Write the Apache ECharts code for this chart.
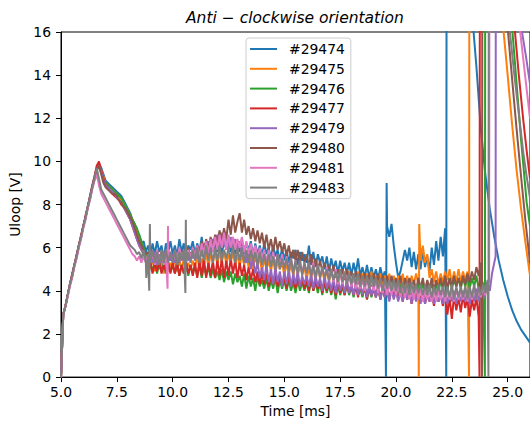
<!DOCTYPE html>
<html><head><meta charset="utf-8">
<script src="https://cdn.jsdelivr.net/npm/echarts@6/dist/echarts.min.js"></script>
<style>html,body{margin:0;padding:0;background:#fff}#chart{width:530px;height:423px}</style>
</head><body><div id="chart"></div>
<script>
// Sample times [ms]
const time = [
5.0,5.1,5.2,5.3,5.4,5.5,5.6,5.7,5.8,5.9,
6.0,6.1,6.2,6.3,6.4,6.5,6.6,6.7,6.8,6.9,
7.0,7.1,7.2,7.3,7.4,7.5,7.6,7.7,7.8,7.9,
8.0,8.1,8.2,8.3,8.4,8.5,8.6,8.7,8.8,8.9,
9.0,9.1,9.2,9.3,9.4,9.5,9.6,9.7,9.8,9.9,
10.0,10.1,10.2,10.3,10.4,10.5,10.6,10.7,10.8,10.9,
11.0,11.1,11.2,11.3,11.4,11.5,11.6,11.7,11.8,11.9,
12.0,12.1,12.2,12.3,12.4,12.5,12.6,12.7,12.8,12.9,
13.0,13.1,13.2,13.3,13.4,13.5,13.6,13.7,13.8,13.9,
14.0,14.1,14.2,14.3,14.4,14.5,14.6,14.7,14.8,14.9,
15.0,15.1,15.2,15.3,15.4,15.5,15.6,15.7,15.8,15.9,
16.0,16.1,16.2,16.3,16.4,16.5,16.6,16.7,16.8,16.9,
17.0,17.1,17.2,17.3,17.4,17.5,17.6,17.7,17.8,17.9,
18.0,18.1,18.2,18.3,18.4,18.5,18.6,18.7,18.8,18.9,
19.0,19.1,19.2,19.3,19.4,19.5,19.6,19.7,19.8,19.9,
20.0,20.1,20.2,20.3,20.4,20.5,20.6,20.7,20.8,20.9,
21.0,21.1,21.2,21.3,21.4,21.5,21.6,21.7,21.8,21.9,
22.0,22.1,22.2,22.3,22.4,22.5,22.6,22.7,22.8,22.9,
23.0,23.1,23.2,23.3,23.4,23.5,23.6,23.7,23.8,23.9,
24.0,24.1,24.2,24.3,24.4
];

const shotNames = ['#29474','#29475','#29476','#29477','#29479','#29480','#29481','#29483'];

// Uloop [V] on the sample grid
const u29474 = [
0,2.9,3.3,3.8,4.3,4.7,5.2,5.6,6.1,6.5,
7.0,7.4,7.9,8.4,8.8,9.3,9.7,9.9,9.7,9.4,
9.1,9.0,8.9,8.8,8.7,8.6,8.5,8.4,8.2,8.0,
7.8,7.6,7.3,7.1,6.7,6.6,6.2,6.3,5.8,6.1,
5.6,6.2,5.7,6.3,5.8,6.1,5.5,6.2,5.8,6.3,
5.7,6.1,5.6,6.4,5.8,6.2,5.6,6.1,5.9,6.3,
5.7,6.2,5.8,6.5,5.7,6.3,5.9,6.4,5.8,6.2,
5.8,6.4,5.7,6.3,5.9,6.5,5.8,6.2,5.7,6.3,
5.8,6.4,5.7,6.2,5.9,6.3,5.6,6.2,5.7,6.1,
5.6,6.2,5.7,6.0,5.5,6.1,5.6,5.9,5.4,6.0,
5.4,5.9,5.3,5.8,5.5,5.9,5.2,5.8,5.4,5.7,
5.3,6.1,5.2,5.8,5.1,5.7,5.3,5.6,5.0,5.6,
4.9,5.5,5.0,5.4,4.8,5.4,4.9,5.3,4.8,5.3,
4.7,5.3,4.8,5.5,4.7,5.1,4.6,5.2,4.6,5.1,
4.6,5.0,4.5,5.1,4.6,4.9,7.0,6.5,7.1,6.1,
5.3,4.6,4.9,5.4,5.9,5.4,6.0,5.1,5.8,5.0,
5.7,5.0,5.9,5.1,5.6,4.9,6.0,5.2,6.3,5.4,
6.5,5.6,6.9
];
const e29474 = [[19.55,0],[19.58,9.0],[22.25,0],[22.28,40],[23.35,40],[23.45,16.3],[23.6,14.4],[23.8,11.5],[24.0,9.4],[24.2,7.8],[24.4,6.5],[24.6,5.4],[24.8,4.5],[25.0,3.75],[25.2,3.1],[25.4,2.6],[25.6,2.2],[25.8,1.9],[26.0,1.6]];

const u29475 = [
0,2.9,3.3,3.8,4.3,4.7,5.2,5.6,6.1,6.5,
7.0,7.4,7.9,8.3,8.8,9.2,9.6,9.9,9.6,9.3,
9.0,8.9,8.8,8.7,8.6,8.5,8.4,8.2,8.1,7.9,
7.7,7.5,7.3,7.0,6.7,6.4,6.1,5.9,5.6,5.4,
5.0,5.5,4.9,5.4,5.0,5.5,4.8,5.4,4.9,5.3,
5.0,5.5,4.9,5.4,5.0,5.5,4.9,5.3,5.0,5.4,
5.1,5.6,5.0,5.5,5.2,5.8,5.1,5.7,5.3,5.8,
5.2,5.8,5.3,5.9,5.2,5.7,5.3,5.8,5.2,5.7,
5.1,5.7,5.2,5.6,5.1,5.7,5.0,5.6,5.2,5.5,
4.9,5.5,5.0,5.4,4.9,5.5,4.8,5.4,5.0,5.3,
4.7,5.3,4.8,5.2,4.7,5.3,4.7,5.2,4.8,5.1,
4.5,5.1,4.6,5.0,4.5,5.1,4.6,5.0,4.4,5.0,
4.4,4.9,4.5,4.9,4.3,4.9,4.4,4.8,4.4,4.9,
4.3,4.8,4.2,4.9,4.3,4.8,4.3,4.8,4.2,4.9,
4.2,4.7,4.2,4.8,4.1,4.7,4.2,4.8,4.2,4.7,
4.2,4.7,4.1,4.8,4.2,4.7,4.1,4.7,4.3,4.8,
4.3,5.4,6.1,5.3,5.7,4.6,5.0,4.4,4.9,4.3,
4.8,4.4,4.9,4.5,5.0,4.3,4.9,4.4,5.0,4.4,
4.9,4.5,4.9
];
const e29475 = [[21.02,0],[21.04,7.1],[23.27,0],[23.3,40],[24.7,40],[24.8,16.2],[25.0,14.0],[25.2,11.7],[25.4,9.6],[25.6,7.8],[25.8,6.2],[26.0,4.7]];

const u29476 = [
0,2.9,3.3,3.8,4.3,4.7,5.2,5.6,6.1,6.5,
7.0,7.4,7.9,8.3,8.8,9.2,9.6,9.8,9.5,9.2,
9.0,8.9,8.8,8.7,8.6,8.5,8.4,8.3,8.1,7.9,
7.7,7.5,7.3,7.1,6.9,6.6,6.3,6.0,5.7,5.5,
5.3,4.9,5.4,4.8,5.3,4.9,5.4,4.8,5.3,4.9,
5.2,4.8,5.3,4.7,5.2,4.8,5.3,4.7,5.2,4.8,
5.1,4.7,5.2,4.6,5.1,4.7,5.1,4.6,5.0,4.6,
4.9,4.5,5.0,4.4,4.9,4.5,4.9,4.3,4.8,4.4,
4.7,4.2,4.8,4.1,4.7,4.2,4.6,4.0,4.7,4.2,
4.5,4.1,4.6,4.0,4.5,4.1,4.6,3.9,4.5,4.1,
4.5,4.0,4.5,4.0,4.4,3.9,4.5,4.0,4.4,4.0,
4.4,3.9,4.5,4.0,4.4,3.9,4.4,3.8,4.4,3.9,
4.3,3.8,4.3,3.6,4.3,3.8,4.2,3.8,4.3,3.8,
4.2,3.7,4.2,3.8,4.1,3.7,4.2,3.6,4.1,3.7,
4.1,3.7,4.2,3.6,4.1,3.7,4.1,3.6,4.2,3.7,
4.2,3.8,4.3,3.7,4.2,3.8,4.3,3.8,4.2,3.8,
4.3,3.9,4.4,3.8,4.3,3.9,4.4,3.9,4.3,3.9,
4.5,4.1,4.6,4.0,4.6,4.1,4.5,4.2,4.6,4.1,
4.6,4.2,4.7,4.1,4.6,4.2,4.7,4.1,4.6,4.3
];
const e29476 = [[23.98,0],[24.01,40],[25.1,40],[25.2,16.2],[25.4,13.6],[25.6,11.0],[25.85,8.1],[26.0,7.0]];

const u29477 = [
0,2.9,3.3,3.8,4.3,4.8,5.2,5.7,6.1,6.6,
7.0,7.5,7.9,8.4,8.9,9.3,9.8,10.0,9.6,9.2,
8.9,8.8,8.6,8.5,8.4,8.3,8.2,8.0,7.9,7.7,
7.5,7.3,7.0,6.7,6.4,6.1,5.9,5.7,5.4,5.3,
5.3,4.8,5.3,4.9,5.4,4.8,5.2,4.9,5.3,4.8,
5.3,4.8,5.3,4.7,5.2,4.8,5.3,4.8,5.2,4.7,
5.3,4.6,5.4,4.7,5.5,4.6,5.3,4.7,5.4,4.6,
5.4,4.7,5.5,4.6,5.4,4.7,5.5,4.8,5.4,4.6,
5.3,4.7,5.2,4.5,5.1,4.5,5.0,4.4,4.9,4.3,
4.8,4.3,4.8,4.2,4.7,4.3,4.8,4.2,4.7,4.3,
4.6,4.1,4.7,4.2,4.6,4.1,4.6,4.2,4.5,4.1,
4.5,4.0,4.6,4.0,4.5,4.1,4.5,3.9,4.4,4.0,
4.4,3.9,4.4,3.8,4.4,3.9,4.3,3.8,4.4,3.9,
4.3,3.8,4.3,3.7,4.3,3.8,4.2,3.6,4.3,3.8,
4.2,3.7,4.2,3.6,4.2,3.7,4.1,3.6,4.1,3.7,
4.1,3.6,4.1,3.5,4.1,3.6,4.0,3.4,4.0,3.6,
4.0,3.5,4.0,3.4,3.9,3.5,3.9,3.3,3.9,3.5,
3.8,3.3,3.9,2.9,3.7,2.7,3.8,3.1,3.7,3.0,
3.8,3.2,3.7,2.8,3.6,3.1,3.7,2.8
];
const e29477 = [[23.74,0],[23.77,40],[25.2,40],[25.31,16.2],[25.5,14.0],[25.7,11.9],[25.85,10.5],[26.0,9.2]];

const u29479 = [
0,2.9,3.3,3.8,4.3,4.7,5.2,5.6,6.1,6.5,
7.0,7.4,7.9,8.3,8.8,9.2,9.6,9.8,9.5,9.1,
8.9,8.8,8.7,8.6,8.5,8.3,8.2,8.1,7.9,7.7,
7.5,7.3,7.0,6.7,6.4,6.1,5.9,5.7,5.5,5.4,
5.7,5.3,5.8,5.2,5.7,5.3,5.8,5.3,5.7,5.4,
5.7,5.3,5.8,5.3,5.8,5.4,5.9,5.4,5.8,5.5,
5.9,5.5,6.0,5.6,6.2,5.7,6.3,5.8,6.4,6.2,
6.6,6.1,6.7,6.1,6.6,6.0,6.5,6.0,6.4,5.8,
6.3,5.6,6.1,5.3,5.8,5.0,5.5,4.8,5.3,4.6,
5.1,4.5,5.2,4.4,5.0,4.3,5.1,4.4,4.9,4.2,
4.9,4.3,5.0,4.2,4.8,4.3,4.9,4.2,4.7,4.3,
4.7,4.2,4.8,4.1,4.7,4.2,4.6,4.0,4.7,4.1,
4.5,4.0,4.6,3.9,4.5,4.0,4.4,3.9,4.5,3.9,
4.3,3.8,4.4,3.8,4.3,3.8,4.3,3.7,4.2,3.8,
4.2,3.7,4.2,3.6,4.1,3.7,4.1,3.5,4.1,3.6,
4.0,3.5,4.1,3.5,4.0,3.6,4.0,3.4,3.9,3.5,
3.9,3.4,4.0,3.4,3.9,3.5,3.9,3.4,3.8,3.5,
3.9,3.4,4.0,3.4,3.9,3.5,4.0,3.4,3.9,3.5,
4.0,3.5,4.0,3.4,3.9,3.5,4.1,3.5,4.0,3.6,
4.1,4.4,4.0,4.8,5.3
];
const e29479 = [[24.46,5.6],[24.48,40],[25.5,40],[25.61,16.2],[25.8,15.0],[26.0,13.6]];

const u29480 = [
0,2.9,3.3,3.8,4.3,4.7,5.2,5.6,6.1,6.5,
7.0,7.4,7.9,8.3,8.8,9.2,9.6,9.8,9.4,9.0,
8.8,8.7,8.6,8.5,8.5,8.4,8.2,8.1,7.9,7.8,
7.6,7.4,7.2,6.9,6.6,6.3,6.1,5.9,5.7,5.8,
5.4,5.8,5.3,5.9,5.4,5.8,5.3,5.9,5.4,5.8,
5.4,5.9,5.3,5.8,5.5,5.9,5.4,6.0,5.5,6.0,
5.6,6.1,5.6,6.3,5.8,6.4,5.9,6.5,6.0,6.6,
6.2,6.8,6.3,6.9,6.4,7.3,6.6,7.5,6.7,7.2,
7.6,6.7,7.3,6.6,7.0,6.4,6.9,6.3,6.8,6.2,
6.7,6.0,6.6,5.9,6.4,5.8,6.5,5.9,6.3,5.8,
6.2,5.6,6.1,5.5,5.9,5.4,5.9,5.3,5.8,5.3,
5.7,5.1,5.7,5.0,5.5,5.0,5.4,4.9,5.3,4.9,
5.2,4.7,5.2,4.6,5.0,4.6,5.0,4.5,5.0,4.5,
4.9,4.4,4.9,4.3,4.8,4.3,4.8,4.3,4.8,4.2,
4.8,4.3,4.8,4.2,4.7,4.2,4.7,4.1,4.7,4.2,
4.6,4.1,4.7,4.0,4.6,4.2,4.6,4.1,4.5,4.0,
4.6,4.1,4.6,4.0,4.5,4.1,4.6,4.0,4.5,4.1,
4.6,4.1,4.7,4.1,4.6,4.2,4.7,4.2,4.6,4.2,
4.7,4.3,4.8,4.4,4.9,4.5,5.1,4.7,5.3
];
const e29480 = [[23.85,0],[23.88,40],[24.9,40],[25.0,16.2],[25.2,13.8],[25.4,11.5],[25.6,9.3],[25.8,7.2],[26.0,5.3]];

const u29481 = [
0,2.9,3.3,3.7,4.2,4.6,5.1,5.5,6.0,6.4,
6.9,7.3,7.8,8.2,8.7,9.1,9.4,8.9,8.5,8.3,
8.1,7.9,7.7,7.5,7.3,7.1,6.9,6.7,6.5,6.3,
6.1,5.9,5.7,5.6,5.4,5.6,5.3,5.6,5.3,5.7,
5.3,5.8,5.2,5.9,5.3,5.8,5.2,5.9,5.4,5.8,
5.3,5.9,5.3,6.0,5.4,5.8,5.3,5.9,5.5,6.0,
5.6,6.1,5.5,6.2,5.7,6.3,5.7,6.4,5.8,6.5,
5.9,6.6,6.0,6.7,5.9,6.6,6.0,6.5,5.9,6.4,
6.0,6.5,5.8,6.3,5.7,6.2,5.6,6.1,5.5,6.0,
5.5,5.9,5.3,5.9,5.2,5.8,5.1,5.7,5.1,5.7,
5.0,5.6,4.9,5.5,4.9,5.4,4.8,5.4,4.8,5.3,
4.8,5.3,4.7,5.3,4.6,5.2,4.6,5.1,4.6,5.1,
4.5,5.0,4.4,5.0,4.3,4.9,4.3,4.9,4.3,4.8,
4.2,4.7,4.1,4.7,4.1,4.6,4.0,4.6,4.1,4.5,
4.0,4.5,3.9,4.5,3.9,4.4,3.8,4.4,3.8,4.3,
3.8,4.3,3.7,4.3,3.7,4.2,3.6,4.2,3.6,4.2,
3.6,4.1,3.5,4.1,3.6,4.0,3.5,4.1,3.5,4.0,
3.6,4.1,3.5,4.1,3.6,4.0,3.5,4.1,3.6,4.0,
3.6,4.1,3.5,4.1,3.6,4.2,3.6,4.1,3.7,4.2,
3.8,4.3
];
const e29481 = [[9.77,4.1],[9.79,7.0],[24.17,4.4],[24.2,40],[25.4,40],[25.54,16.2],[25.8,13.8],[26.0,12.0]];

const u29483 = [
0,2.9,3.3,3.8,4.3,4.7,5.2,5.6,6.1,6.5,
7.0,7.4,7.9,8.3,8.8,9.2,9.7,9.2,8.7,8.5,
8.3,8.1,7.9,7.7,7.5,7.3,7.1,6.9,6.7,6.5,
6.3,6.1,6.0,5.9,5.7,5.8,5.5,5.9,5.3,5.7,
5.3,5.9,5.3,5.8,5.2,5.9,5.3,5.9,5.3,5.8,
5.3,5.9,5.2,5.8,5.4,5.9,5.3,5.8,5.3,5.9,
5.4,6.0,5.3,5.9,5.4,6.1,5.4,6.0,5.3,6.0,
5.4,6.1,5.4,5.9,5.5,6.0,5.4,6.1,5.3,6.0,
5.4,6.0,5.3,5.9,5.3,5.9,5.4,5.8,5.2,5.8,
5.2,5.7,5.1,5.7,5.1,5.6,5.0,5.7,5.0,5.5,
5.0,5.5,4.9,5.5,4.8,5.4,4.8,5.4,4.7,5.3,
4.8,5.3,4.7,5.2,4.6,5.2,4.6,5.1,4.6,5.0,
4.5,5.0,4.5,4.9,4.4,5.0,4.4,4.9,4.3,4.8,
4.3,4.8,4.3,4.8,4.2,4.7,4.2,4.7,4.1,4.7,
4.2,4.6,4.1,4.6,4.0,4.6,4.1,4.5,4.0,4.5,
4.0,4.5,3.9,4.4,3.9,4.4,3.8,4.4,3.9,4.3,
3.9,4.3,3.8,4.3,3.8,4.3,3.7,4.2,3.8,4.3,
3.8,4.2,3.7,4.2,3.7,4.3,3.6,4.2,3.7,4.2,
3.7,4.2,3.6,4.2,3.7,4.3,3.6,4.2,3.8,4.3,
3.9,4.5
];
const e29483 = [[8.82,4.6],[8.95,4.0],[8.98,7.1],[10.57,3.9],[10.59,7.3],[24.14,0],[24.17,40],[25.0,40],[25.08,16.2],[25.3,14.0],[25.5,12.2],[25.7,10.4],[25.85,9.3],[26.0,8.3]];

const xTicks = [5.0, 7.5, 10.0, 12.5, 15.0, 17.5, 20.0, 22.5, 25.0];
const yTicks = [0, 2, 4, 6, 8, 10, 12, 14, 16];

const shotValues = [u29474,u29475,u29476,u29477,u29479,u29480,u29481,u29483];
const shotEvents = [e29474,e29475,e29476,e29477,e29479,e29480,e29481,e29483];
const palette = ['#1f77b4','#ff7f0e','#2ca02c','#d62728','#9467bd','#8c564b','#e377c2','#7f7f7f'];

function buildPoints(vals, events) {
  const pts = vals.map((v, i) => [time[i], v]).concat(events);
  pts.sort((a, b) => a[0] - b[0]);
  return pts;
}

const FONT = 'DejaVu Sans';
const chart = echarts.init(document.getElementById('chart'), null, {renderer: 'svg'});
chart.setOption({
  animation: false,
  backgroundColor: '#ffffff',
  color: palette,
  title: {
    text: 'Anti \u2212 clockwise orientation',
    left: 186, top: 10, padding: 0,
    textStyle: {fontFamily: FONT, fontStyle: 'italic', fontWeight: 'normal', fontSize: 15.5, color: '#000'}
  },
  legend: {
    orient: 'vertical', left: 246, top: 38,
    data: shotNames.map(n => ({name: n, icon: 'rect'})),
    itemWidth: 27, itemHeight: 2, itemGap: 5.8,
    padding: [4, 6, 4, 4],
    backgroundColor: 'rgba(255,255,255,0.8)',
    borderColor: '#cccccc', borderWidth: 1, borderRadius: 3,
    textStyle: {fontFamily: FONT, fontSize: 13.9, color: '#000', lineHeight: 14, padding: [0, 0, 0, 7]},
    selectedMode: false
  },
  grid: {left: 61, top: 32, width: 470, height: 349, show: true, borderColor: '#000', borderWidth: 1, backgroundColor: 'transparent'},
  xAxis: {
    type: 'value', min: 5, max: 26, interval: 2.5,
    name: 'Time [ms]', nameLocation: 'middle', nameGap: 25,
    nameTextStyle: {fontFamily: FONT, fontSize: 13.9, color: '#000'},
    axisLine: {show: true, lineStyle: {color: '#000', width: 1}},
    axisTick: {show: true, length: 5, lineStyle: {color: '#000'}},
    axisLabel: {fontFamily: FONT, fontSize: 13.9, color: '#000', margin: 8, showMaxLabel: false,
      formatter: v => (xTicks.indexOf(v) >= 0 ? v.toFixed(1) : '')},
    splitLine: {show: false}
  },
  yAxis: {
    type: 'value', min: 0, max: 16, interval: 2,
    name: 'Uloop [V]', nameLocation: 'middle', nameGap: 27,
    nameTextStyle: {fontFamily: FONT, fontSize: 13.9, color: '#000'},
    axisLine: {show: true, lineStyle: {color: '#000', width: 1}},
    axisTick: {show: true, length: 5, lineStyle: {color: '#000'}},
    axisLabel: {fontFamily: FONT, fontSize: 13.9, color: '#000', margin: 10,
      formatter: v => (yTicks.indexOf(v) >= 0 ? String(v) : '')},
    splitLine: {show: false}
  },
  series: shotNames.map((name, k) => ({
    name: name,
    type: 'line',
    data: buildPoints(shotValues[k], shotEvents[k]),
    symbol: 'none', showSymbol: false,
    clip: true,
    lineStyle: {width: 2, color: palette[k]},
    itemStyle: {color: palette[k]},
    emphasis: {disabled: true}
  }))
});
</script>
</body></html>
